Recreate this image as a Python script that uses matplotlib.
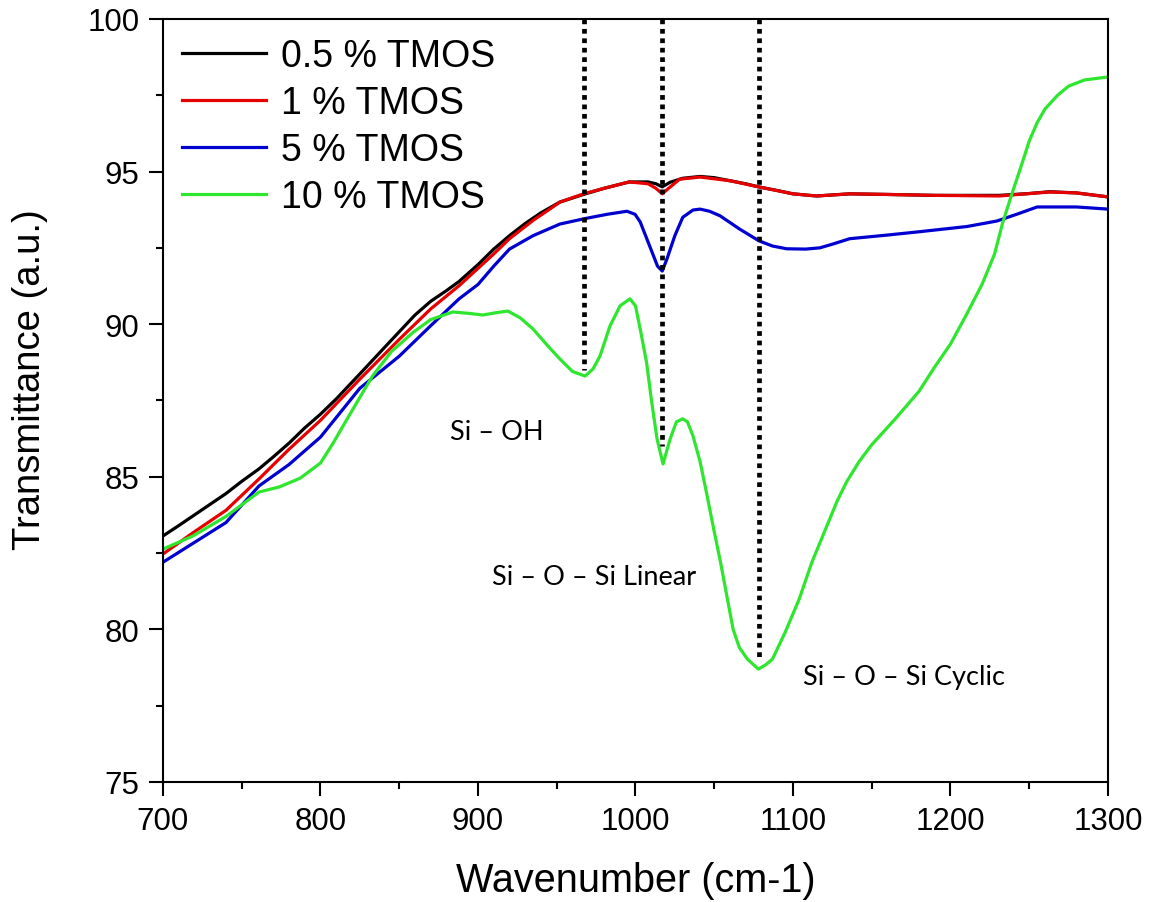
import numpy as np
import matplotlib.pyplot as plt
from matplotlib.ticker import MultipleLocator

# FTIR spectra, values
x_05 = [700, 710, 720, 730, 740, 750, 761, 770, 780, 790, 800, 810, 825, 840, 850, 860,
        870, 880, 888, 900, 910, 920, 930, 940, 952, 967, 980, 996, 1008, 1013, 1017,
        1022, 1030, 1041, 1050, 1060, 1070, 1078, 1090, 1100, 1115, 1136, 1160, 1190,
        1231, 1250, 1263, 1280, 1300]
y_05 = [83.06, 83.4, 83.75, 84.1, 84.45, 84.85, 85.26, 85.65, 86.1, 86.6, 87.05, 87.55,
        88.37, 89.2, 89.75, 90.3, 90.75, 91.1, 91.4, 91.95, 92.46, 92.9, 93.3, 93.65,
        94.0, 94.25, 94.45, 94.66, 94.66, 94.6, 94.5, 94.65, 94.78, 94.84, 94.8, 94.7,
        94.6, 94.5, 94.38, 94.27, 94.2, 94.27, 94.25, 94.22, 94.22, 94.28, 94.34, 94.3,
        94.17]

x_1 = [700, 720, 740, 761, 780, 800, 825, 850, 870, 888, 910, 920, 935, 945, 952, 967,
       980, 996, 1008, 1013, 1017, 1021, 1028, 1041, 1060, 1078, 1100, 1115, 1136, 1160,
       1190, 1231, 1250, 1263, 1280, 1300]
y_1 = [82.47, 83.2, 83.9, 84.93, 85.9, 86.85, 88.2, 89.5, 90.5, 91.26, 92.3, 92.8, 93.4,
       93.75, 94.0, 94.27, 94.45, 94.66, 94.6, 94.45, 94.27, 94.45, 94.75, 94.82, 94.7,
       94.5, 94.27, 94.2, 94.27, 94.25, 94.22, 94.2, 94.28, 94.33, 94.3, 94.17]

x_5 = [700, 720, 740, 761, 780, 800, 825, 850, 870, 888, 900, 910, 920, 935, 952, 967,
       982, 994.6, 999.7, 1003, 1009, 1014, 1017, 1020, 1025, 1030, 1036.5, 1041, 1047,
       1053.7, 1066, 1078.4, 1087, 1096, 1108, 1117, 1125, 1136, 1160, 1178.7, 1210.5,
       1229.5, 1242, 1255, 1280, 1300]
y_5 = [82.2, 82.85, 83.5, 84.7, 85.4, 86.3, 87.9, 88.95, 89.95, 90.83, 91.3, 91.9, 92.46,
       92.9, 93.28, 93.45, 93.6, 93.7, 93.6, 93.35, 92.56, 91.9, 91.74, 92.14, 92.9, 93.5,
       93.74, 93.77, 93.7, 93.55, 93.12, 92.73, 92.56, 92.47, 92.46, 92.5, 92.62, 92.8,
       92.92, 93.02, 93.2, 93.38, 93.6, 93.84, 93.84, 93.77]

x_10 = [700, 719, 740, 761, 774, 787, 800, 808, 817, 825, 833, 845, 859, 870, 884, 895,
        903, 912, 919, 927, 935, 945, 952, 960, 968, 973, 977.5, 983.8, 990.2, 996.5,
        1000, 1003, 1007, 1010.3, 1013.7, 1017.5, 1022, 1026, 1030, 1033, 1036.5, 1041,
        1045, 1050, 1054, 1058, 1062, 1066, 1071, 1078, 1083, 1087, 1095, 1104, 1112,
        1121.6, 1128, 1134, 1142, 1150, 1165, 1180, 1190, 1200, 1210, 1220, 1228, 1233,
        1239, 1245, 1250, 1255, 1260, 1268, 1275, 1285, 1300]
y_10 = [82.63, 83.06, 83.7, 84.5, 84.67, 84.95, 85.45, 86.1, 86.9, 87.6, 88.3, 89.1, 89.74,
        90.15, 90.4, 90.35, 90.3, 90.38, 90.43, 90.2, 89.84, 89.25, 88.86, 88.45, 88.3,
        88.53, 88.96, 89.94, 90.6, 90.83, 90.6, 89.84, 88.76, 87.45, 86.24, 85.42, 86.24,
        86.8, 86.9, 86.8, 86.34, 85.5, 84.5, 83.2, 82.2, 81.1, 80.0, 79.4, 79.03, 78.7,
        78.85, 79.03, 79.9, 81.0, 82.2, 83.4, 84.2, 84.83, 85.5, 86.05, 86.9, 87.8, 88.6,
        89.35, 90.3, 91.3, 92.3, 93.3, 94.27, 95.2, 96.0, 96.6, 97.05, 97.5, 97.8, 98.0,
        98.1]

labels = ['0.5 % TMOS', '1 % TMOS', '5 % TMOS', '10 % TMOS']
colors = ['black', '#e60000', '#0000d0', '#2ee62e']

# band positions and where the dotted markers stop
band_x = [967, 1017, 1078.4]
band_bottom = [88.5, 86.0, 79.1]
band_text = ['Si – OH', 'Si – O – Si Linear', 'Si – O – Si Cyclic']
text_pos = [(912, 86.47), (974, 81.72), (1170.5, 78.44)]

fig = plt.figure(figsize=(11.55, 9.03), dpi=100)
ax = fig.add_axes([0.1411, 0.1329, 0.8182, 0.845])

series = [(x_05, y_05), (x_1, y_1), (x_5, y_5), (x_10, y_10)]
for (xs, ys), lab, c in zip(series, labels, colors):
    ax.plot(xs, ys, color=c, lw=2.3, label=lab)

for bx, bb in zip(band_x, band_bottom):
    ax.plot([bx, bx], [100, bb], color='black', lw=3.4, linestyle=(0, (1, 1)),
            dash_capstyle='butt')

for t, (tx, ty) in zip(band_text, text_pos):
    ax.text(tx, ty, t, ha='center', va='center', fontsize=19.5, family='Lato')

ax.set_xlim(700, 1300)
ax.set_ylim(75, 100)
ax.xaxis.set_major_locator(MultipleLocator(100))
ax.xaxis.set_minor_locator(MultipleLocator(50))
ax.yaxis.set_major_locator(MultipleLocator(5))
ax.yaxis.set_minor_locator(MultipleLocator(2.5))
ax.tick_params(which='major', direction='out', length=10, width=1.5, labelsize=22.5, pad=7)
ax.tick_params(which='minor', direction='out', length=5, width=1.5)
for lab in ax.get_xticklabels() + ax.get_yticklabels():
    lab.set_family('Liberation Sans')
for s in ax.spines.values():
    s.set_linewidth(1.5)

ax.set_xlabel('Wavenumber (cm-1)', fontsize=28.5, family='Liberation Sans', labelpad=18)
ax.set_ylabel('Transmittance (a.u.)', fontsize=27.5, family='Liberation Sans')
ax.yaxis.set_label_coords(-0.122, 0.528)

ax.legend(loc='upper left', frameon=False, prop={'family': 'Liberation Sans', 'size': 27},
          handlelength=2.25, handletextpad=0.4, labelspacing=0.3,
          borderaxespad=0.4, borderpad=0.1)

fig.savefig('out.png', dpi=100)
